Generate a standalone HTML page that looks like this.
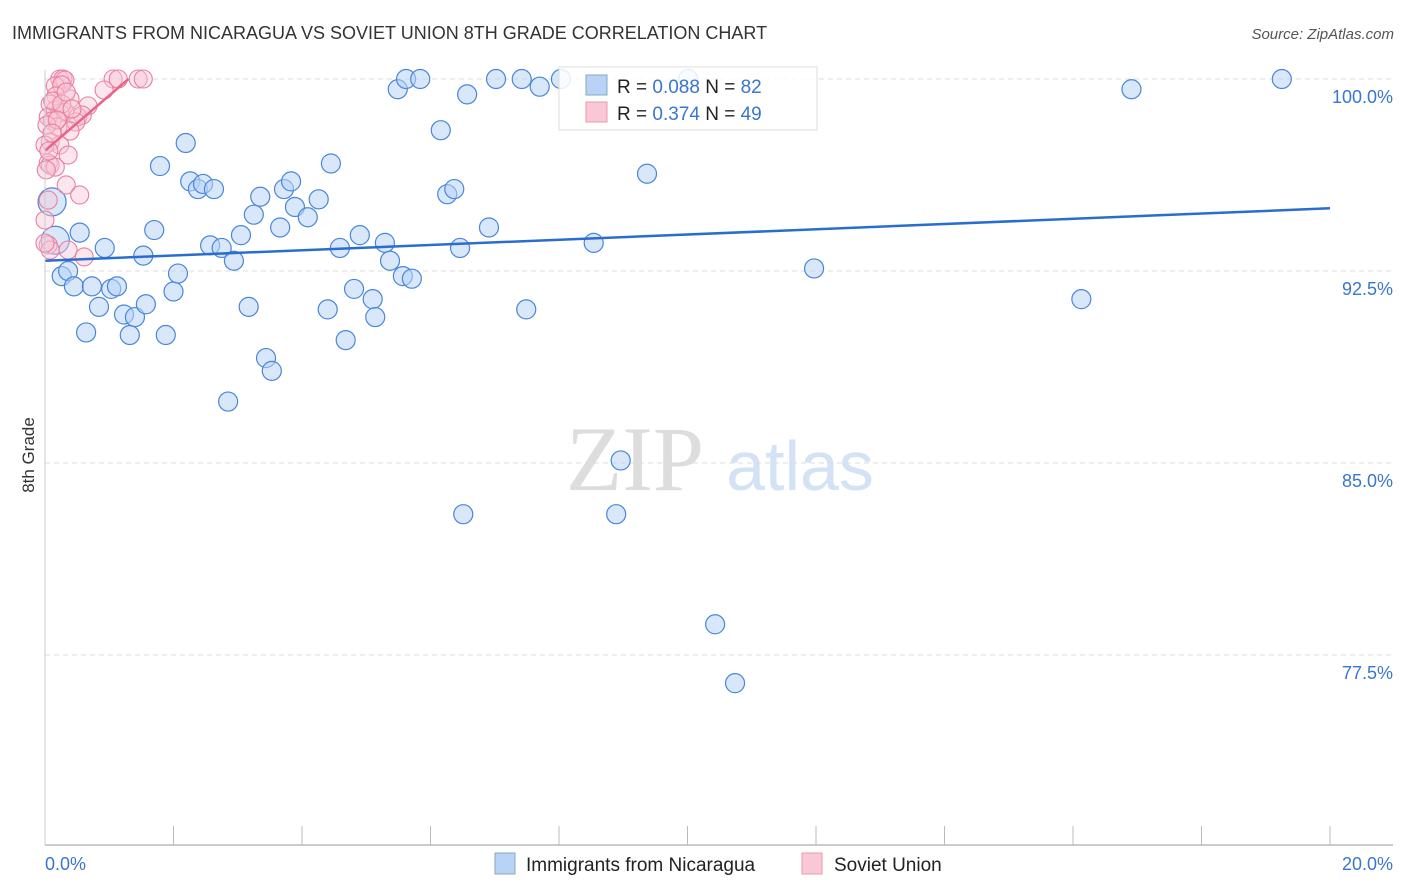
<!DOCTYPE html>
<html><head><meta charset="utf-8"><style>
body{margin:0;background:#fff;font-family:"Liberation Sans",sans-serif;}
svg{display:block}
</style></head><body>
<svg id="c" width="1406" height="892" xmlns="http://www.w3.org/2000/svg">
<text x="12" y="39" font-size="18" fill="#333">IMMIGRANTS FROM NICARAGUA VS SOVIET UNION 8TH GRADE CORRELATION CHART</text>
<text x="1394" y="39" font-size="15" fill="#555" font-style="italic" text-anchor="end">Source: ZipAtlas.com</text>
<text transform="translate(34,455) rotate(-90)" font-size="17" fill="#333" text-anchor="middle">8th Grade</text>
<g>
<text x="635" y="490" font-size="92" fill="#ddd" font-family="Liberation Serif,serif" text-anchor="middle">ZIP</text>
<text x="800" y="490" font-size="70" fill="#d3e2f5" text-anchor="middle">atlas</text>
</g>
<g id="grid"></g><g id="blue"></g><g id="pink"></g><g id="lines"></g>
<line x1="45" y1="845" x2="1393" y2="845" stroke="#bbb" stroke-width="1.5"/>
<line x1="45" y1="70" x2="45" y2="845" stroke="#ccc"/>
<text x="45" y="870" font-size="18" fill="#3a75d0">0.0%</text>
<text x="1393" y="870" font-size="18" fill="#3a75d0" text-anchor="end">20.0%</text>
<g>
<rect x="559" y="67" width="258" height="63" fill="#fff" fill-opacity="0.85" stroke="#ddd"/>
<rect x="586" y="75" width="21" height="20" fill="#b8d3f5" stroke="#8ab"/>
<rect x="586" y="102" width="21" height="20" fill="#f9c8d6" stroke="#e9a"/>
<text x="617" y="93" font-size="19" fill="#222">R = <tspan fill="#3a75d0">0.088</tspan>   N = <tspan fill="#3a75d0">82</tspan></text>
<text x="617" y="120" font-size="19" fill="#222">R =  <tspan fill="#3a75d0">0.374</tspan>   N = <tspan fill="#3a75d0">49</tspan></text>
</g>
<g>
<rect x="495" y="853" width="20" height="21" fill="#b8d3f5" stroke="#8ab"/>
<text x="526" y="871" font-size="19" fill="#222">Immigrants from Nicaragua</text>
<rect x="802" y="853" width="20" height="21" fill="#f9c8d6" stroke="#e9a"/>
<text x="834" y="871" font-size="19" fill="#222">Soviet Union</text>
</g>
</svg>
<script>
const yTicks=[100,92.5,85,77.5];
const yTickLabels=["100.0%","92.5%","85.0%","77.5%"];
const xTicks=[0,2,4,6,8,10,12,14,16,18,20];
const blueX=[0.11,0.16,0.26,0.36,0.45,0.54,0.64,0.73,0.84,0.93,1.03,1.12,1.23,1.32,1.4,1.53,1.57,1.7,1.79,1.88,2.0,2.07,2.19,2.26,2.38,2.46,2.57,2.63,2.75,2.85,2.94,3.05,3.17,3.25,3.35,3.44,3.53,3.66,3.72,3.83,3.89,4.09,4.26,4.4,4.45,4.59,4.68,4.81,4.9,5.1,5.14,5.29,5.37,5.49,5.57,5.62,5.71,5.84,6.16,6.26,6.37,6.46,6.51,6.57,6.91,7.02,7.42,7.49,7.7,8.03,8.54,8.89,8.96,9.37,10.01,10.43,10.74,11.97,16.13,16.91,19.25];
const blueY=[95.2,93.7,92.3,92.5,91.9,94.0,90.1,91.9,91.1,93.4,91.8,91.9,90.8,90.0,90.7,93.1,91.2,94.1,96.6,90.0,91.7,92.4,97.5,96.0,95.7,95.9,93.5,95.7,93.4,87.4,92.9,93.9,91.1,94.7,95.4,89.1,88.6,94.2,95.7,96.0,95.0,94.6,95.3,91.0,96.7,93.4,89.8,91.8,93.9,91.4,90.7,93.6,92.9,99.6,92.3,100,92.2,100,98.0,95.5,95.7,93.4,83.0,99.4,94.2,100,100,91.0,99.7,100,93.6,83.0,85.1,96.3,100,78.7,76.4,92.6,91.4,99.6,100];
const pinkX=[0.23,0.28,0.31,1.06,1.14,1.45,1.53,0.16,0.26,0.92,0.17,0.39,0.67,0.08,0.16,0.23,0.31,0.51,0.58,0.05,0.11,0.2,0.48,0.08,0.23,0.0,0.36,0.05,0.08,0.16,0.02,0.33,0.54,0.05,0.0,0.05,0.08,0.36,0.61,0.0,0.03,0.39,0.12,0.26,0.33,0.19,0.42,0.06,0.11];
const pinkY=[100,100,99.96,100,100,100,100,99.73,99.77,99.57,99.34,99.22,98.95,99.02,98.79,98.67,98.71,98.52,98.59,98.52,98.36,98.13,98.32,97.54,97.42,97.42,97.03,96.72,96.64,96.56,96.45,95.86,95.47,95.27,94.49,93.52,93.32,93.32,93.05,93.59,98.2,97.97,99.14,99.02,99.49,98.4,98.83,97.19,97.89];
const blueTrend=[[0,92.9],[20,94.95]];
const pinkTrend=[[0,97.2],[1.3,100]];
const NS="http://www.w3.org/2000/svg";
const sx=v=>45+v/20*1285, sy=v=>79+(100-v)*25.6;
function mk(t,a,p){const e=document.createElementNS(NS,t);for(const k in a)e.setAttribute(k,a[k]);p.appendChild(e);return e;}
const grid=document.getElementById('grid');
yTicks.forEach((t,i)=>{
 const l=mk('line',{x1:45,x2:1393,y1:sy(t),y2:sy(t),stroke:'#ddd','stroke-dasharray':'5,4'},grid);
 
 
 const tx=mk('text',{x:1393,y:sy(t)+24,'font-size':18,fill:'#3a75d0','text-anchor':'end'},grid);
 tx.textContent=yTickLabels[i];
 
 
});
xTicks.forEach(t=>{
 const l=mk('line',{x1:sx(t),x2:sx(t),y1:826,y2:845,stroke:'#bbb'},grid);
 
 
});
const bg=document.getElementById('blue');
blueX.forEach((x,i)=>{
 const r=(i<2)?14:9.5;
 const c=mk('circle',{cx:sx(x),cy:sy(blueY[i]),r:r,fill:'#b8d3f5','fill-opacity':0.55,stroke:'#4a86d8','stroke-width':1.2},bg);
 
 
});
const pg=document.getElementById('pink');
pinkX.forEach((x,i)=>{
 const c=mk('circle',{cx:sx(x),cy:sy(pinkY[i]),r:9,fill:'#f9c8d6','fill-opacity':0.45,stroke:'#ea7fa0','stroke-width':1.1},pg);
 
 
});
const lg=document.getElementById('lines');
const bl=mk('line',{x1:sx(blueTrend[0][0]),y1:sy(blueTrend[0][1]),x2:sx(blueTrend[1][0]),y2:sy(blueTrend[1][1]),stroke:'#2a6dd0','stroke-width':2.5},lg);


const pl=mk('line',{x1:sx(pinkTrend[0][0]),y1:sy(pinkTrend[0][1]),x2:sx(pinkTrend[1][0]),y2:sy(pinkTrend[1][1]),stroke:'#e8648a','stroke-width':2.5},lg);


</script>
</body></html>
